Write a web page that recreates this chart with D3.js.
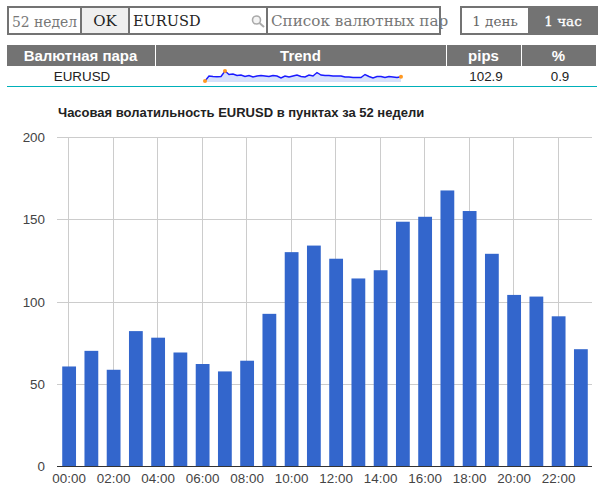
<!DOCTYPE html>
<html><head><meta charset="utf-8">
<script src="https://cdn.jsdelivr.net/npm/d3@7"></script>
<style>
html,body{margin:0;padding:0;background:#fff}
svg{display:block}
</style></head><body>
<svg id="c" width="609" height="502"></svg>
<script>
// Hourly volatility of EURUSD, in pips
const hours = ["00:00","01:00","02:00","03:00","04:00","05:00","06:00","07:00","08:00","09:00","10:00","11:00","12:00","13:00","14:00","15:00","16:00","17:00","18:00","19:00","20:00","21:00","22:00","23:00"];
const pips = [60.5,70,58.5,82,78,69,62,57.5,64,92.5,130,134,126,114,119,148.5,151.5,167.5,155,129,104,103,91,71];
const yTicks = [0,50,100,150,200];
const xTickLabels = hours.filter((d,i)=>i%2===0);
// Trend sparkline readings
const trend = [85,100,98.5,97.6,98.5,115,104.5,106,101.5,103,98.5,101.5,97,100,101.5,100,98.5,101.5,100,94,100,97,100,103,98.5,97,103,100,110.5,103,101.5,101.5,100,100,100,97,97,95.5,95.5,95.5,104.5,98.5,94,98.5,98.5,95.5,98.5,97,95.5,97.9];
const tableHeads = ["Валютная пара","Trend","pips","%"];
const tableRow = ["EURUSD","102.9","0.9"];

const svg = d3.select("#c");
const grey = "#737373";
const sans = "Arial, 'Liberation Sans', sans-serif";
const serif = "Georgia, 'DejaVu Serif', serif";

// Control strip
function box(x,y,w,h,fill,stroke,sw){
  svg.append("rect").attr("x",x).attr("y",y).attr("width",w).attr("height",h)
    .attr("fill",fill).attr("stroke",stroke).attr("stroke-width",sw);
}
function label(x,y,t,o={}){
  return svg.append("text").attr("x",x).attr("y",y).text(t)
    .attr("text-anchor",o.anchor||"middle").attr("font-family",o.font||sans)
    .attr("font-size",o.size||14).attr("font-weight",o.weight||"normal")
    .attr("fill",o.fill||"#222");
}
box(8,7,432,27,"#fff",grey,2);
box(82,8,46,25,"#efefef","none",0);
svg.selectAll("line.sep").data([81,129,267]).enter().append("line")
  .attr("x1",d=>d).attr("x2",d=>d).attr("y1",7).attr("y2",34).attr("stroke",grey).attr("stroke-width",2);
label(12,27,"52 недел",{anchor:"start",font:serif,size:13.9,fill:"#777"});
label(105,26,"OK",{font:serif,size:15,fill:"#222"});
label(133,26,"EURUSD",{anchor:"start",font:serif,size:14.5,fill:"#222"});
label(271,26,"Список валютных пар",{anchor:"start",font:serif,size:15.2,fill:"#777"});
// magnifier glyph
svg.append("circle").attr("cx",256.5).attr("cy",20).attr("r",4).attr("fill","#f4f4f4").attr("stroke","#aaa").attr("stroke-width",1.6);
svg.append("line").attr("x1",259.5).attr("y1",23).attr("x2",264).attr("y2",27).attr("stroke","#aaa").attr("stroke-width",2);

box(461,7,136,27,"#fff",grey,2);
box(529,7,68,27,grey,grey,2);
label(495,26,"1 день",{font:serif,size:13.5,fill:"#666"});
label(563,26,"1 час",{font:serif,size:13.5,fill:"#fff"}).attr("stroke","#fff").attr("stroke-width",0.3);

// Summary table
const columnEdges = [7,156,447,522,597];
const heads = svg.selectAll("g.head").data(tableHeads).enter().append("g").attr("class","head");
heads.append("rect").attr("x",(d,i)=>columnEdges[i]).attr("y",45)
  .attr("width",(d,i)=>columnEdges[i+1]-columnEdges[i]-1).attr("height",21).attr("fill",grey);
heads.append("text").attr("x",(d,i)=>(columnEdges[i]+columnEdges[i+1])/2-1).attr("y",61)
  .attr("text-anchor","middle").attr("font-family",sans).attr("font-size",15).attr("font-weight","bold")
  .attr("fill","#fff").text(d=>d);
label(82,81,tableRow[0],{size:13.4});
label(486,81,tableRow[1],{size:13.4});
label(560,81,tableRow[2],{size:13.4});
svg.append("line").attr("x1",7).attr("x2",597).attr("y1",86.5).attr("y2",86.5).attr("stroke","#00b0b9").attr("stroke-width",1);

// Sparkline
const sx = d3.scaleLinear().domain([0,trend.length-1]).range([205,401]);
const sy = d3.scaleLinear().domain([85,115]).range([81,71]);
svg.append("path").datum(trend).attr("fill","#d6e0fb")
  .attr("d",d3.area().x((d,i)=>sx(i)).y0(82).y1(d=>sy(d)));
svg.append("path").datum(trend).attr("fill","none").attr("stroke","#1a1aff").attr("stroke-width",1.4)
  .attr("d",d3.line().x((d,i)=>sx(i)).y(d=>sy(d)));
const marked = [0,trend.indexOf(d3.max(trend)),trend.length-1];
svg.selectAll("circle.m").data(marked).enter().append("circle")
  .attr("cx",i=>sx(i)).attr("cy",i=>sy(trend[i])).attr("r",2).attr("fill","#ff9922");

// Bar chart
label(58,117,"Часовая волатильность EURUSD в пунктах за 52 недели",{anchor:"start",size:13,weight:"bold",fill:"#222"});
const x = d3.scaleBand().domain(hours).range([58,592]).paddingInner(0.38).paddingOuter(0.19);
const y = d3.scaleLinear().domain([0,200]).range([466,137]);
const gridX = d => Math.floor(x(d)+x.bandwidth()/2-.6)+.5;

svg.append("g").selectAll("line").data(yTicks).enter().append("line")
  .attr("x1",57).attr("x2",592).attr("y1",d=>Math.round(y(d))+.5).attr("y2",d=>Math.round(y(d))+.5).attr("stroke","#ccc");
svg.append("g").selectAll("line").data(xTickLabels).enter().append("line")
  .attr("x1",gridX).attr("x2",gridX)
  .attr("y1",137).attr("y2",466).attr("stroke","#ccc");
svg.append("g").selectAll("rect").data(pips).enter().append("rect")
  .attr("x",(d,i)=>x(hours[i])).attr("width",x.bandwidth())
  .attr("y",d=>y(d)).attr("height",d=>y(0)-y(d)).attr("fill","#3366cc");
svg.append("line").attr("x1",57).attr("x2",592).attr("y1",466.5).attr("y2",466.5).attr("stroke","#333");

svg.append("g").selectAll("text").data(yTicks).enter().append("text")
  .attr("x",45).attr("y",d=>y(d)+5).attr("text-anchor","end").attr("font-family",sans).attr("font-size",13.4)
  .attr("fill","#444").text(d=>d);
svg.append("g").selectAll("text").data(xTickLabels).enter().append("text")
  .attr("x",d=>x(d)+x.bandwidth()/2).attr("y",483).attr("text-anchor","middle").attr("font-family",sans).attr("font-size",13.4)
  .attr("fill","#444").text(d=>d);
</script>
</body></html>
